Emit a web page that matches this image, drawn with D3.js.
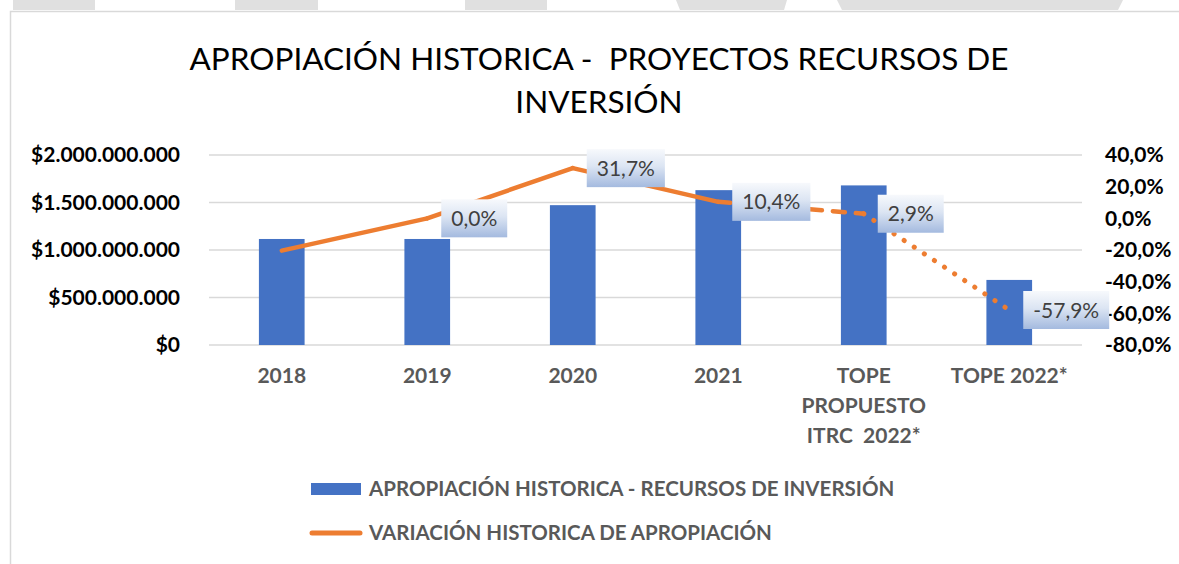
<!DOCTYPE html>
<html>
<head>
<meta charset="utf-8">
<script src="https://cdn.jsdelivr.net/npm/d3@7"></script>
<style>
  body { margin: 0; background: #fff; }
  svg { display: block; font-family: Lato, "Noto Sans", sans-serif; }
</style>
</head>
<body>
<div id="chart"></div>
<script>

// categories, "|" marks a line break in the tick label
var categories = ["2018", "2019", "2020", "2021", "TOPE|PROPUESTO|ITRC  2022*", "TOPE 2022*"];
// apropiacion (pesos)
var apropiacion = [1116000000, 1116000000, 1472000000, 1630000000, 1680000000, 685000000];
// variacion (fraction)
var variacion = [-0.204, 0.0, 0.317, 0.104, 0.029, -0.579];
var variacionLabels = [false, true, true, true, true, true];
// line style of each segment going out of point i
var segmentStyle = ["solid", "solid", "solid", "dash", "dot"];
var leftTicks = [0, 500000000, 1000000000, 1500000000, 2000000000];
var rightTicks = [0.4, 0.2, 0, -0.2, -0.4, -0.6, -0.8];
var title = ["APROPIACIÓN HISTORICA -  PROYECTOS RECURSOS DE", "INVERSIÓN"];
var legendNames = ["APROPIACIÓN HISTORICA - RECURSOS DE INVERSIÓN", "VARIACIÓN HISTORICA DE APROPIACIÓN"];

var W = 1179, H = 564;
var blue = "#4472C4", orange = "#ED7D31", grid = "#D9D9D9";

var locale = d3.formatLocale({decimal: ",", thousands: ".", grouping: [3], currency: ["$", ""], minus: "-"});
var fmtMoney = locale.format("$,.0f");
var fmtPct = locale.format(".1%");

var svg = d3.select("#chart").append("svg")
    .attr("width", W)
    .attr("height", H);

// gray strips at the top of the screenshot
var strips = [[13, 95], [235, 318], [465, 547]];
svg.append("g").selectAll("rect")
    .data(strips)
    .enter().append("rect")
    .attr("x", d => d[0]).attr("y", 0)
    .attr("width", d => d[1] - d[0]).attr("height", 10)
    .attr("fill", "#E0E0E0");
svg.append("path").attr("d", "M676,0L787,0L784,10L680,10Z").attr("fill", "#E0E0E0");
svg.append("path").attr("d", "M837,0L1123,0L1118,10L842,10Z").attr("fill", "#E0E0E0");

// chart frame
svg.append("path")
    .attr("d", "M10.5," + H + "L10.5,11.5L" + W + ",11.5")
    .attr("fill", "none")
    .attr("stroke", "#D9D9D9")
    .attr("stroke-width", 1.5);

// title
svg.append("g").selectAll("text")
    .data(title)
    .enter().append("text")
    .attr("x", 599)
    .attr("y", (d, i) => 70 + i * 43)
    .attr("text-anchor", "middle")
    .attr("font-size", 31.5)
    .attr("fill", "#000")
    .style("white-space", "pre")
    .text(d => d);

var plot = {left: 209, right: 1082, top: 155, bottom: 345};

var x = d3.scaleBand()
    .domain(categories)
    .range([plot.left, plot.right])
    .paddingInner(0.686)
    .paddingOuter(0.343);

var yLeft = d3.scaleLinear().domain([0, 2000000000]).range([plot.bottom, plot.top]);
var yRight = d3.scaleLinear().domain([-0.8, 0.4]).range([plot.bottom, plot.top]);

// gridlines
svg.append("g").selectAll("line")
    .data(leftTicks)
    .enter().append("line")
    .attr("x1", plot.left).attr("x2", plot.right)
    .attr("y1", d => yLeft(d)).attr("y2", d => yLeft(d))
    .attr("stroke", grid)
    .attr("stroke-width", 1.5);

// left axis
var gLeft = svg.append("g")
    .attr("transform", "translate(" + plot.left + ",0)")
    .call(d3.axisLeft(yLeft).tickValues(leftTicks).tickFormat(fmtMoney).tickSize(0).tickPadding(29));
gLeft.select(".domain").remove();
gLeft.selectAll("text")
    .attr("font-family", "Lato, sans-serif")
    .attr("font-size", 21)
    .attr("font-weight", "bold")
    .attr("fill", "#000");

// right axis
var gRight = svg.append("g")
    .attr("transform", "translate(" + plot.right + ",0)")
    .call(d3.axisRight(yRight).tickValues(rightTicks).tickFormat(fmtPct).tickSize(0).tickPadding(23));
gRight.select(".domain").remove();
gRight.selectAll("text")
    .attr("font-family", "Lato, sans-serif")
    .attr("font-size", 21)
    .attr("font-weight", "bold")
    .attr("fill", "#000");

// bars
svg.append("g").selectAll("rect")
    .data(apropiacion)
    .enter().append("rect")
    .attr("x", (d, i) => x(categories[i]))
    .attr("y", d => yLeft(d))
    .attr("width", x.bandwidth())
    .attr("height", d => plot.bottom - yLeft(d))
    .attr("fill", blue);

// category labels
var xLabels = svg.append("g").selectAll("text")
    .data(categories)
    .enter().append("text")
    .attr("x", d => x(d) + x.bandwidth() / 2)
    .attr("y", plot.bottom + 38)
    .attr("text-anchor", "middle")
    .attr("font-size", 21)
    .attr("font-weight", "bold")
    .attr("fill", "#595959")
    .style("white-space", "pre");
xLabels.selectAll("tspan")
    .data(d => d.split("|"))
    .enter().append("tspan")
    .attr("x", function () { return d3.select(this.parentNode).attr("x"); })
    .attr("dy", (d, i) => i === 0 ? 0 : 30)
    .text(d => d);

// line, one piece per segment so each can carry its own dash
var pts = variacion.map((v, i) => ({x: x(categories[i]) + x.bandwidth() / 2, y: yRight(v)}));
var segs = segmentStyle.map((s, i) => ({a: pts[i], b: pts[i + 1], style: s}));
var dash = {solid: null, dash: "12 11", dot: "0.1 12"};
svg.append("g").selectAll("path")
    .data(segs)
    .enter().append("path")
    .attr("d", d => "M" + d.a.x + "," + d.a.y + "L" + d.b.x + "," + d.b.y)
    .attr("fill", "none")
    .attr("stroke", orange)
    .attr("stroke-width", d => d.style === "dot" ? 5 : 4.5)
    .attr("stroke-linecap", "round")
    .attr("stroke-dasharray", d => dash[d.style]);

// data labels
var defs = svg.append("defs");
var grad = defs.append("linearGradient")
    .attr("id", "lblGrad")
    .attr("x1", 0).attr("y1", 0).attr("x2", 0).attr("y2", 1);
grad.append("stop").attr("offset", "0%").attr("stop-color", "#F7F9FC");
grad.append("stop").attr("offset", "45%").attr("stop-color", "#DCE5F3");
grad.append("stop").attr("offset", "100%").attr("stop-color", "#A4BADF");

var lbl = svg.append("g").selectAll("g")
    .data(variacion.map((v, i) => ({v: v, p: pts[i], show: variacionLabels[i]})).filter(d => d.show))
    .enter().append("g")
    .attr("transform", d => "translate(" + (d.p.x + 14) + "," + d.p.y + ")");
lbl.append("text")
    .attr("x", 10)
    .attr("y", 0)
    .attr("dy", "0.36em")
    .attr("font-size", 21)
    .attr("fill", "#404040")
    .text(d => fmtPct(d.v));
lbl.insert("rect", "text")
    .attr("x", 0)
    .attr("y", -19)
    .attr("height", 38)
    .attr("width", function (d) { return this.parentNode.querySelector("text").getComputedTextLength() + 20; })
    .attr("fill", "url(#lblGrad)");

// legend
var legend = svg.append("g");
legend.append("rect")
    .attr("x", 311).attr("y", 483)
    .attr("width", 50).attr("height", 12)
    .attr("fill", blue);
legend.append("line")
    .attr("x1", 312).attr("x2", 360)
    .attr("y1", 533).attr("y2", 533)
    .attr("stroke", orange)
    .attr("stroke-width", 5)
    .attr("stroke-linecap", "round");
legend.selectAll("text")
    .data(legendNames)
    .enter().append("text")
    .attr("x", 369)
    .attr("y", (d, i) => 496 + i * 44)
    .attr("font-size", 20.5)
    .attr("font-weight", "bold")
    .attr("fill", "#595959")
    .text(d => d);

</script>
</body>
</html>
